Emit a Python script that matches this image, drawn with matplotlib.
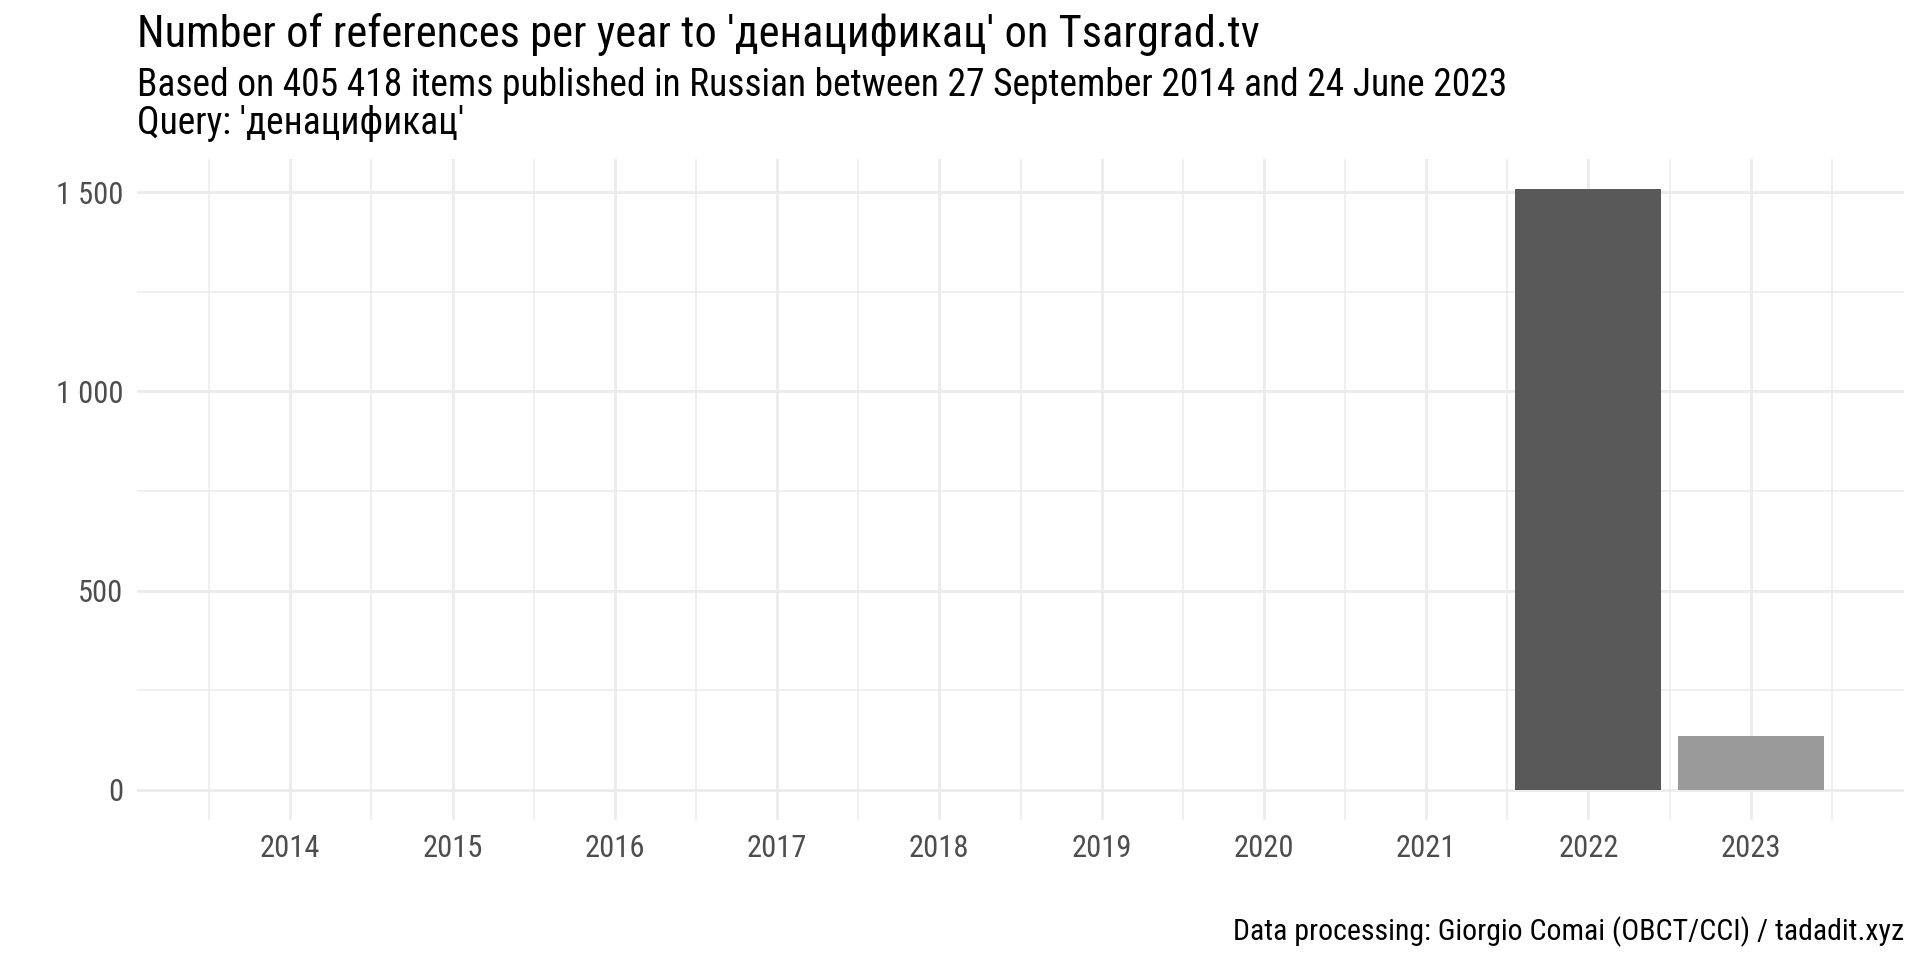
import matplotlib
matplotlib.use("Agg")
import matplotlib.pyplot as plt
from matplotlib.ticker import FuncFormatter, MultipleLocator

plt.rcParams['font.family'] = ['Roboto Condensed', 'Roboto', 'DejaVu Sans']

# data
years = [2014, 2015, 2016, 2017, 2018, 2019, 2020, 2021, 2022, 2023]
counts = [0, 0, 0, 0, 0, 0, 0, 0, 1508, 136]
bar_colors = ['#595959'] * 9 + ['#9a9a9a']

title = "Number of references per year to 'денацификац' on Tsargrad.tv"
subtitle = ("Based on 405 418 items published in Russian between 27 September 2014 and 24 June 2023\n"
            "Query: 'денацификац'")
caption = "Data processing: Giorgio Comai (OBCT/CCI) / tadadit.xyz"

fig = plt.figure(figsize=(19.2, 9.6), dpi=100)
ax = fig.add_axes([137 / 1920, 140 / 960, (1904 - 137) / 1920, (820 - 159) / 960])

ax.bar(years, counts, width=0.9, color=bar_colors, zorder=3)

# ggplot-like expansion
ymax = max(counts)
ax.set_ylim(-0.05 * ymax, 1.05 * ymax)
ax.set_xlim(min(years) - 0.45 - 0.495, max(years) + 0.45 + 0.495)

ax.xaxis.set_major_locator(MultipleLocator(1))
ax.xaxis.set_minor_locator(MultipleLocator(0.5))
ax.yaxis.set_major_locator(MultipleLocator(500))
ax.yaxis.set_minor_locator(MultipleLocator(250))
ax.yaxis.set_major_formatter(FuncFormatter(lambda v, p: f"{int(v):,}".replace(",", " ")))
ax.xaxis.set_major_formatter(FuncFormatter(lambda v, p: f"{int(v)}"))

ax.grid(which='major', color='#ebebeb', linewidth=2.0, zorder=0)
ax.grid(which='minor', color='#ebebeb', linewidth=1.1, zorder=0)
ax.set_axisbelow(True)
for s in ax.spines.values():
    s.set_visible(False)
ax.tick_params(which='both', length=0)
ax.tick_params(axis='both', labelsize=22, labelcolor='#4d4d4d')
ax.tick_params(axis='x', pad=10)
ax.tick_params(axis='y', pad=10)

fig.text(137 / 1920, 1 - 47.5 / 960, title, fontsize=32, color='black', va='baseline', ha='left')
fig.text(137 / 1920, 1 - 96.5 / 960, subtitle.split("\n")[0], fontsize=27, color='black', va='baseline', ha='left')
fig.text(137 / 1920, 1 - 133.5 / 960, subtitle.split("\n")[1], fontsize=27, color='black', va='baseline', ha='left')
fig.text(1904 / 1920, 1 - 940 / 960, caption, fontsize=21.5, color='black', va='baseline', ha='right')

fig.savefig("out.png", dpi=100, facecolor='white')
